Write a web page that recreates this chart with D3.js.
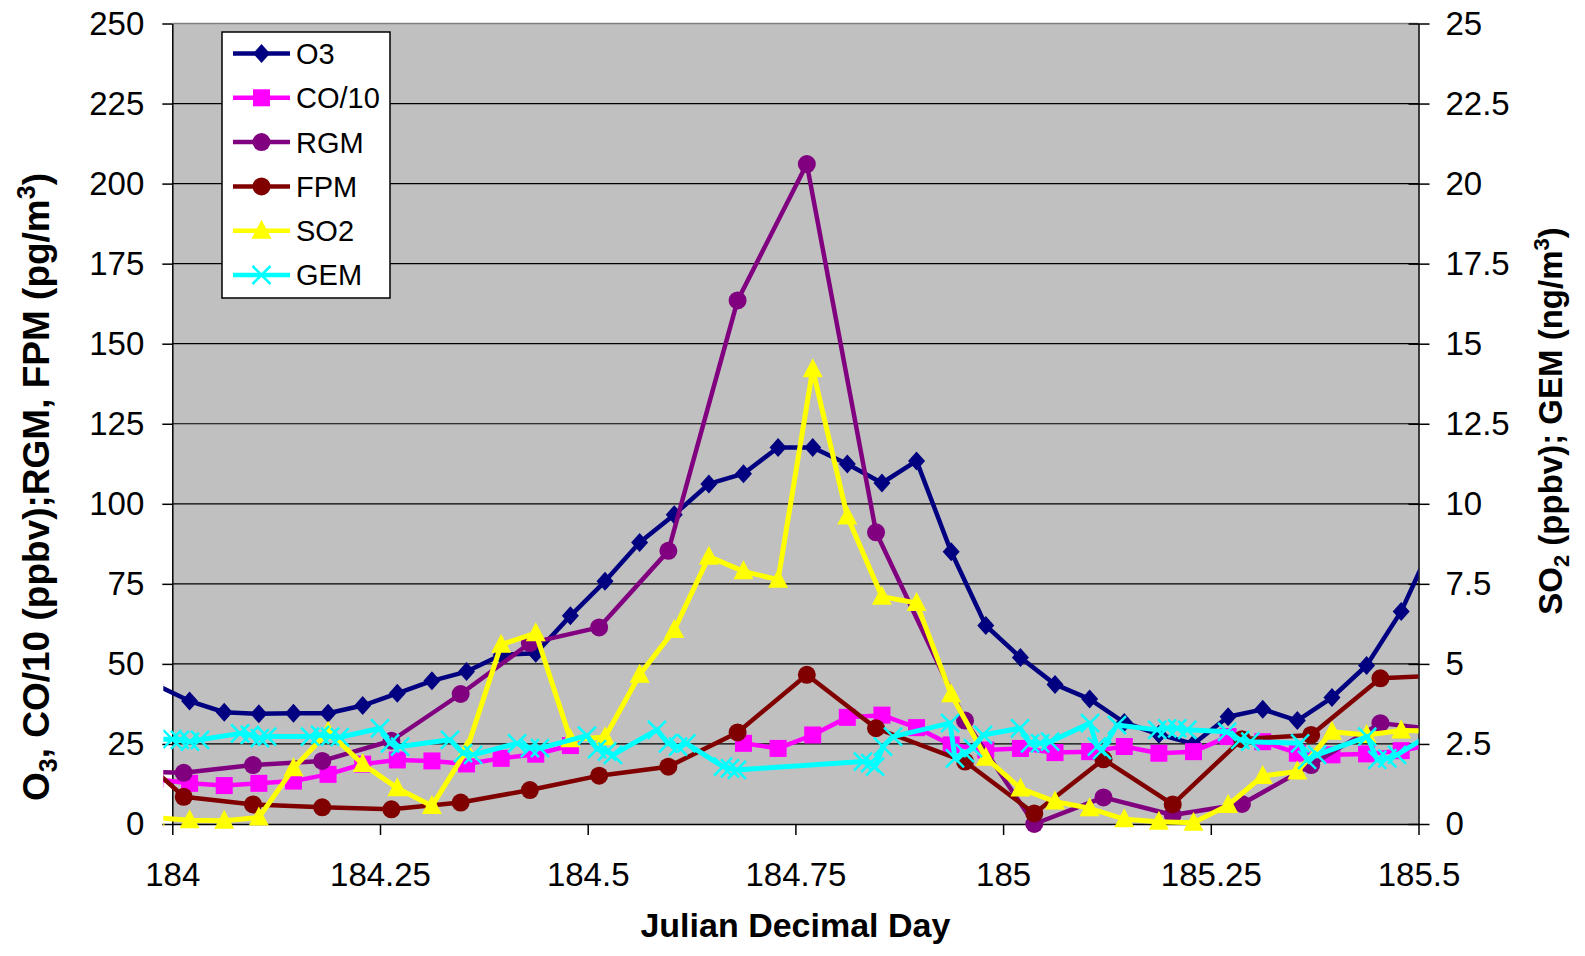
<!DOCTYPE html>
<html>
<head>
<meta charset="utf-8">
<script src="https://cdn.jsdelivr.net/npm/d3@7"></script>
<style>
  body { margin: 0; background: #fff; }
  svg { display: block; font-family: "Liberation Sans", Arial, sans-serif; }
</style>
</head>
<body>
<svg id="chart" width="1585" height="956"></svg>
<script>
// time is given in hours after the start of day 184
const hourlyHours = [-0.5, 0.5, 1.5, 2.5, 3.5, 4.5, 5.5, 6.5, 7.5, 8.5, 9.5, 10.5, 11.5, 12.5,
  13.5, 14.5, 15.5, 16.5, 17.5, 18.5, 19.5, 20.5, 21.5, 22.5, 23.5, 24.5, 25.5, 26.5,
  27.5, 28.5, 29.5, 30.5, 31.5, 32.5, 33.5, 34.5, 35.5, 36.5]
const o3 = [43.6, 38.4, 34.9, 34.4, 34.6, 34.6, 37, 40.8, 44.7, 47.6, 52.8, 53.3, 65, 75.8,
  87.9, 96.6, 106.2, 109.4, 117.6, 117.6, 112.4, 106.5, 113.4, 85, 62, 52, 43.6, 39,
  31.7, 28, 25, 33.5, 35.8, 32.3, 39.5, 49.5, 66.4, 90]
const co10 = [14, 12.7, 12, 12.7, 13.4, 15.5, 18.7, 20, 19.7, 18.75, 20.5, 21.8, 24.5, null,
  null, null, null, 25.2, 23.6, 27.8, 33.3, 34, 30.1, 24.7, 23.1, 23.6, 22.3, 22.6,
  24.2, 22.1, 22.6, 27.3, 25.7, 22.1, 21.6, 21.9, 22.9, 25]
const so2 = [0.2, 0.12, 0.1, 0.2, 1.74, 2.88, 1.87, 1.12, 0.56, 2.3, 5.6, 5.96, 2.65, 2.71,
  4.66, 6.06, 8.35, 7.89, 7.63, 14.2, 9.6, 7.1, 6.9, 4.05, 2.07, 1.11, 0.7, 0.49,
  0.15, 0.07, 0.04, 0.59, 1.5, 1.64, 2.88, 2.78, 2.92, 2.9]

// two-hourly speciated mercury
const hgHours = [-1.67, 0.33, 2.33, 4.33, 6.33, 8.33, 10.33, 12.33, 14.33, 16.33, 18.33,
  20.33, 22.9, 24.9, 26.9, 28.9, 30.9, 32.9, 34.9, 36.9]
const rgm = [16.5, 16, 18.4, 19.7, 26, 40.6, 56.5, 61.4, 85.3, 163.5, 206.1, 91.1, 32.3,
  0, 8.3, 2.8, 6.25, 18.4, 31.5, 29]
const fpm = [28, 8.5, 6.1, 5.2, 4.6, 6.7, 10.6, 15.1, 17.9, 28.6, 46.6, 29.9, 19.5, 3.3,
  20.2, 6.1, 26.5, 27.8, 45.5, 46.5]

// GEM samples
const gemHours = [-0.6, 0.0, 0.22, 0.51, 0.8, 1.96, 2.24, 2.53, 2.74, 3.98, 4.27, 4.56, 4.84,
  6.0, 6.29, 6.58, 8.02, 8.4, 8.69, 9.96, 10.33, 10.62, 11.98, 12.27, 12.56, 12.73,
  14.0, 14.32, 14.61, 14.85, 15.91, 16.11, 16.31, 19.95, 20.16, 20.3, 20.53, 20.82,
  22.47, 22.61, 22.9, 23.13, 23.42, 24.49, 24.78, 25.07, 25.36, 26.51, 26.71, 26.86,
  27.29, 28.45, 28.74, 29.03, 29.32, 30.47, 30.85, 31.14, 32.58, 32.78, 33.07, 34.52,
  34.81, 35.1, 35.38, 36.5]
const gem = [2.65, 2.65, 2.63, 2.57, 2.63, 2.83, 2.78, 2.68, 2.73, 2.73, 2.78, 2.73, 2.71,
  2.99, 2.52, 2.42, 2.63, 2.21, 2.16, 2.52, 2.37, 2.37, 2.76, 2.34, 2.26, 2.16,
  2.94, 2.52, 2.42, 2.52, 1.79, 1.74, 1.69, 1.95, 1.9, 1.79, 2.42, 2.73,
  3.15, 2.05, 2.21, 2.37, 2.78, 2.99, 2.52, 2.52, 2.57, 3.15, 2.42, 2.31,
  3.09, 2.94, 2.99, 2.99, 2.94, 2.88, 2.63, 2.57, 2.52, 2.0, 2.16, 2.73,
  2.0, 2.05, 2.16, 2.9]

const xTicks = [184, 184.25, 184.5, 184.75, 185, 185.25, 185.5]
const leftTicks = [0, 25, 50, 75, 100, 125, 150, 175, 200, 225, 250]
const rightTicks = [0, 2.5, 5, 7.5, 10, 12.5, 15, 17.5, 20, 22.5, 25]

const svg = d3.select('#chart')
const plotL = 172.3, plotR = 1418.5, plotT = 23.5, plotB = 824

const x = d3.scaleLinear().domain([184, 185.5]).range([plotL, plotR])
const yL = d3.scaleLinear().domain([0, 250]).range([plotB, plotT])
const yR = d3.scaleLinear().domain([0, 25]).range([plotB, plotT])
const day = h => 184 + h / 24

const pack = (hours, vals) => hours.map((h, i) => ({ t: day(h), v: vals[i] }))

const series = [
  { name: 'O3', data: pack(hourlyHours, o3), y: yL, color: '#000080', marker: 'diamond', w: 4.5 },
  { name: 'CO/10', data: pack(hourlyHours, co10), y: yL, color: '#FF00FF', marker: 'square', w: 4.5 },
  { name: 'RGM', data: pack(hgHours, rgm), y: yL, color: '#800080', marker: 'circle', w: 4.5 },
  { name: 'FPM', data: pack(hgHours, fpm), y: yL, color: '#800000', marker: 'circle', w: 4.5 },
  { name: 'SO2', data: pack(hourlyHours, so2), y: yR, color: '#FFFF00', marker: 'triangle', w: 5 },
  { name: 'GEM', data: pack(gemHours, gem), y: yR, color: '#00FFFF', marker: 'x', w: 5 }
]

// plot background
svg.append('rect')
  .attr('x', plotL).attr('y', plotT)
  .attr('width', plotR - plotL).attr('height', plotB - plotT)
  .attr('fill', '#C0C0C0')

// horizontal gridlines
svg.append('g').selectAll('line')
  .data(leftTicks.filter(d => d > 0 && d < 250))
  .enter().append('line')
  .attr('x1', plotL).attr('x2', plotR)
  .attr('y1', d => yL(d)).attr('y2', d => yL(d))
  .attr('stroke', '#000').attr('stroke-width', 1.2)
svg.append('line')
  .attr('x1', plotL).attr('x2', plotR)
  .attr('y1', plotT).attr('y2', plotT)
  .attr('stroke', '#808080').attr('stroke-width', 1.5)

// axes
const fontSize = 33
const styleAxis = g => {
  g.select('.domain').attr('stroke', '#000').attr('stroke-width', 1.5)
  g.selectAll('.tick line').attr('stroke', '#000').attr('stroke-width', 1.5)
  g.selectAll('.tick text').attr('fill', '#000')
    .style('font-size', fontSize + 'px')
    .style('font-family', '"Liberation Sans", Arial, sans-serif')
}

svg.append('g')
  .attr('transform', `translate(0,${plotB})`)
  .call(d3.axisBottom(x).tickValues(xTicks).tickFormat(d => String(d))
    .tickSizeInner(11).tickSizeOuter(0).tickPadding(28))
  .call(styleAxis)

svg.append('g')
  .attr('transform', `translate(${plotL},0)`)
  .call(d3.axisLeft(yL).tickValues(leftTicks).tickFormat(d => String(d))
    .tickSizeInner(10).tickSizeOuter(0).tickPadding(18))
  .call(styleAxis)

const gR = svg.append('g')
  .attr('transform', `translate(${plotR},0)`)
  .call(d3.axisRight(yR).tickValues(rightTicks).tickFormat(d => String(d))
    .tickSizeInner(11).tickSizeOuter(0).tickPadding(16))
  .call(styleAxis)
gR.selectAll('.tick line').attr('x1', -10)

// clip: lines run a little past the left axis, as in the original
svg.append('clipPath').attr('id', 'clip')
  .append('rect').attr('x', plotL - 9).attr('y', 0)
  .attr('width', plotR - plotL + 9).attr('height', 956)

function drawMarker(g, type, color) {
  if (type === 'diamond') {
    g.append('path').attr('d', 'M0,-9.5L8.5,0L0,9.5L-8.5,0Z').attr('fill', color)
  } else if (type === 'square') {
    g.append('rect').attr('x', -8.5).attr('y', -8.5).attr('width', 17).attr('height', 17).attr('fill', color)
  } else if (type === 'circle') {
    g.append('circle').attr('r', 9).attr('fill', color)
  } else if (type === 'triangle') {
    g.append('path').attr('d', 'M0,-11L10,8L-10,8Z').attr('fill', color)
  } else if (type === 'x') {
    g.append('path').attr('d', 'M-9,-9L9,9M-9,9L9,-9')
      .attr('stroke', color).attr('stroke-width', 2.5).attr('fill', 'none')
  }
}

const plot = svg.append('g').attr('clip-path', 'url(#clip)')
series.forEach(s => {
  const line = d3.line()
    .defined(d => d.v !== null)
    .x(d => x(d.t)).y(d => s.y(d.v))
  plot.append('path')
    .datum(s.data)
    .attr('d', line)
    .attr('fill', 'none')
    .attr('stroke', s.color)
    .attr('stroke-width', s.w)
    .attr('stroke-linejoin', 'round')
  plot.append('g').selectAll('g')
    .data(s.data.filter(d => d.v !== null))
    .enter().append('g')
    .attr('transform', d => `translate(${x(d.t)},${s.y(d.v)})`)
    .each(function () { drawMarker(d3.select(this), s.marker, s.color) })
})

// legend
const legend = svg.append('g')
legend.append('rect')
  .attr('x', 222).attr('y', 32).attr('width', 168).attr('height', 266)
  .attr('fill', '#fff').attr('stroke', '#000').attr('stroke-width', 1.5)
const item = legend.selectAll('g.item')
  .data(series)
  .enter().append('g')
  .attr('class', 'item')
  .attr('transform', (d, i) => `translate(0,${53.5 + i * 44.3})`)
item.append('line')
  .attr('x1', 233).attr('x2', 290)
  .attr('stroke', d => d.color).attr('stroke-width', 4.5)
item.append('g')
  .attr('transform', 'translate(261.5,0)')
  .each(function (d) { drawMarker(d3.select(this), d.marker, d.color) })
item.append('text')
  .attr('x', 296).attr('dy', '0.36em')
  .style('font-size', '29px')
  .text(d => d.name)

// axis titles
svg.append('text')
  .attr('x', (plotL + plotR) / 2).attr('y', 937)
  .attr('text-anchor', 'middle')
  .style('font-size', '34px').style('font-weight', 'bold')
  .text('Julian Decimal Day')

const lt = svg.append('text')
  .attr('transform', 'translate(49,487) rotate(-90)')
  .attr('text-anchor', 'middle')
  .style('font-size', '37px').style('font-weight', 'bold')
lt.append('tspan').text('O')
lt.append('tspan').attr('dy', 8).style('font-size', '25px').text('3')
lt.append('tspan').attr('dy', -8).text(', CO/10 (ppbv);RGM, FPM (pg/m')
lt.append('tspan').attr('dy', -14).style('font-size', '25px').text('3')
lt.append('tspan').attr('dy', 14).text(')')

const rt = svg.append('text')
  .attr('transform', 'translate(1562,421) rotate(-90)')
  .attr('text-anchor', 'middle')
  .style('font-size', '33px').style('font-weight', 'bold')
rt.append('tspan').text('SO')
rt.append('tspan').attr('dy', 7).style('font-size', '22px').text('2')
rt.append('tspan').attr('dy', -7).text(' (ppbv); GEM (ng/m')
rt.append('tspan').attr('dy', -13).style('font-size', '22px').text('3')
rt.append('tspan').attr('dy', 13).text(')')
</script>
</body>
</html>
